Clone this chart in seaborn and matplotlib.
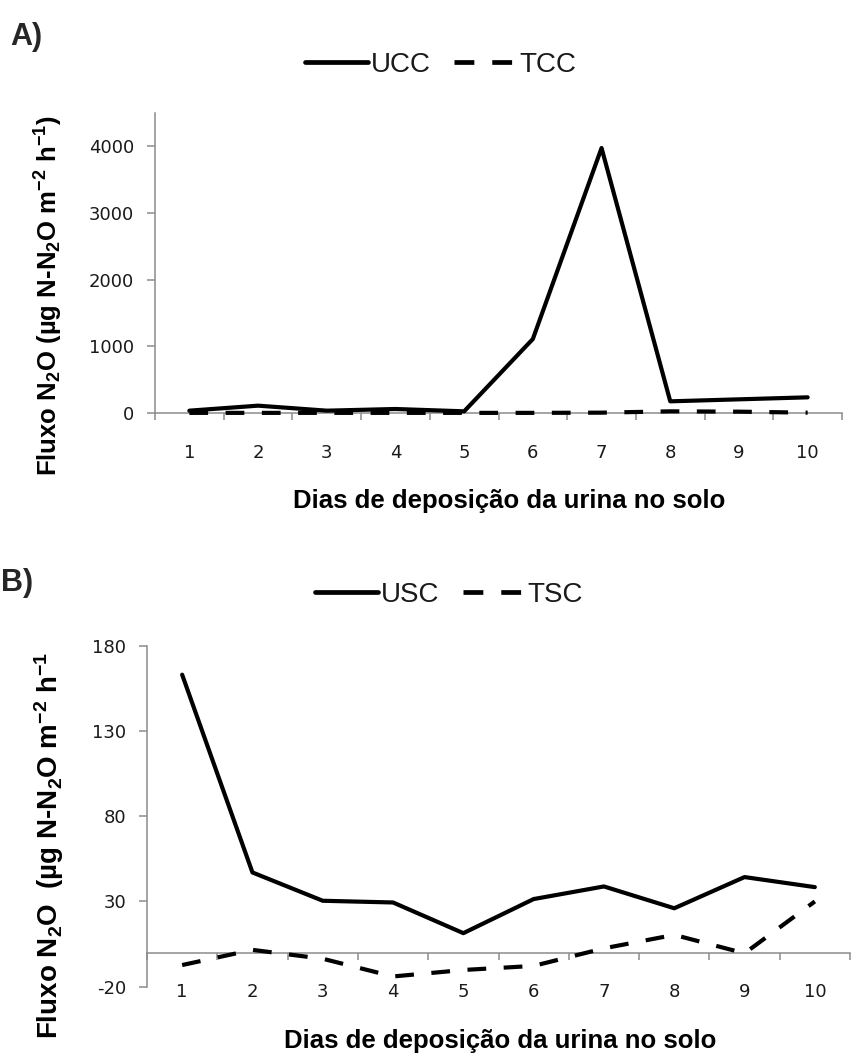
import matplotlib
matplotlib.use("Agg")
import matplotlib.pyplot as plt
import numpy as np
import pandas as pd
import seaborn as sns
from matplotlib.lines import Line2D

# ---------------- data ----------------
days = [1, 2, 3, 4, 5, 6, 7, 8, 9, 10]
ucc = [35, 110, 35, 60, 25, 1110, 3975, 175, 205, 235]
tcc = [2, 2, 2, 2, 2, 2, 5, 25, 20, 5]
usc = [163, 47, 30.4, 29.4, 11.4, 31.4, 38.8, 26, 44.3, 38.4]
tsc = [-7.3, 1.6, -3.6, -14, -10.2, -7.8, 2.5, 10.4, -0.4, 30]
series_a = ["UCC", "TCC"]
series_b = ["USC", "TSC"]
yticks_a = [0, 1000, 2000, 3000, 4000]
yticks_b = [-20, 30, 80, 130, 180]
xlabel_txt = "Dias de deposição da urina no solo"
ylabel_a = "Fluxo N$_2$O (µg N-N$_2$O m$^{-2}$ h$^{-1}$)"
ylabel_b = "Fluxo N$_2$O  (µg N-N$_2$O m$^{-2}$ h$^{-1}$"

df_a = pd.DataFrame({"dia": days * 2, "fluxo": ucc + tcc,
                     "serie": [series_a[0]] * 10 + [series_a[1]] * 10})
df_b = pd.DataFrame({"dia": days * 2, "fluxo": usc + tsc,
                     "serie": [series_b[0]] * 10 + [series_b[1]] * 10})

sns.set_theme(style="white")
plt.rcParams["font.family"] = ["Liberation Sans", "DejaVu Sans"]
plt.rcParams["mathtext.default"] = "regular"

W, H = 851, 1055
fig = plt.figure(figsize=(W / 100, H / 100), dpi=100)
axA = fig.add_axes([155 / W, 1 - 413 / H, 687 / W, 300 / H])
axB = fig.add_axes([147 / W, 1 - 986.7 / H, 703 / W, 341 / H])

GRAY = "#8c8c8c"
TXT = "#1a1a1a"
LW = 3.0
DASH = (4.5, 4.2)


def panel(ax, df, names, ylim, yticks, ylabel, ylab_fs, ylab_xy, xlab_xy, leg_xy):
    sns.lineplot(data=df, x="dia", y="fluxo", style="serie", style_order=names,
                 dashes={names[0]: "", names[1]: DASH}, color="black",
                 linewidth=LW, legend=False, ax=ax)
    for ln in ax.lines:
        ln.set_clip_on(False)
        ln.set_zorder(3)
    ax.set_xlim(0.5, 10.5)
    ax.set_ylim(*ylim)
    for s in ["top", "right"]:
        ax.spines[s].set_visible(False)
    for s in ["left", "bottom"]:
        ax.spines[s].set_color(GRAY)
        ax.spines[s].set_linewidth(1.1)
    ax.spines["bottom"].set_position(("data", 0))
    ax.set_yticks(yticks)
    ax.set_yticklabels([str(v) for v in yticks], family="DejaVu Sans")
    ax.tick_params(axis="y", which="major", left=True, direction="out", length=6,
                   width=1.1, color=GRAY, labelsize=13, pad=9, labelcolor=TXT)
    ax.set_xticks(np.arange(0.5, 11, 1))
    ax.set_xticklabels([])
    ax.set_xticks(days, minor=True)
    ax.set_xticklabels([str(d) for d in days], minor=True, family="DejaVu Sans")
    ax.tick_params(axis="x", which="major", bottom=True, direction="out", length=5,
                   width=1.1, color=GRAY)
    ax.tick_params(axis="x", which="minor", bottom=True, length=0, labelbottom=True,
                   labelsize=13, pad=22, labelcolor=TXT)
    ax.set_ylabel(ylabel, fontsize=ylab_fs, fontweight="bold", color="black")
    ax.yaxis.set_label_coords(*ylab_xy)
    ax.set_xlabel(xlabel_txt, fontsize=18.5, fontweight="bold", color="black")
    ax.xaxis.set_label_coords(*xlab_xy)
    handles = [Line2D([], [], color="black", lw=3.4),
               Line2D([], [], color="black", lw=3.4, dashes=(4.2, 3.8))]
    ax.legend(handles, names, loc="center", bbox_to_anchor=leg_xy, ncol=2,
              frameon=False, fontsize=20, handlelength=2.25, handletextpad=0.1,
              columnspacing=0.85, labelcolor=TXT)


panel(axA, df_a, series_a, (0, 4500), yticks_a, ylabel_a, 18.5,
      (-0.131, 0.393), (0.515, -0.255), (0.416, 1.16))
panel(axB, df_b, series_b, (-20, 180), yticks_b, ylabel_b, 20,
      (-0.115, 0.416), (0.503, -0.125), (0.43, 1.149))

fig.text(10 / W, 1 - 22 / H, "A)", fontsize=22, fontweight="bold", va="top", ha="left")
fig.text(1 / W, 1 - 568 / H, "B)", fontsize=22, fontweight="bold", va="top", ha="left")

fig.savefig("out.png", dpi=100, facecolor="white")
